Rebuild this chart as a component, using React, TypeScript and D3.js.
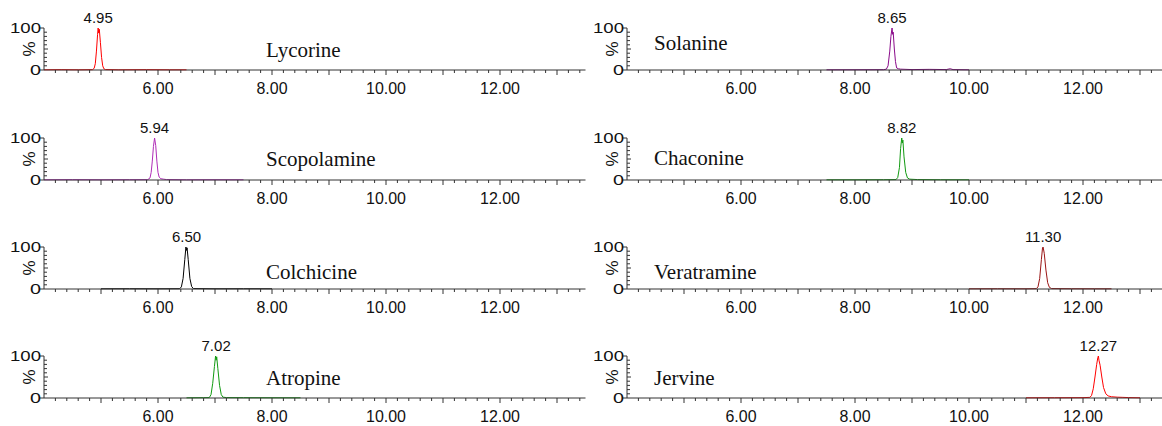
import React from "react";
import * as d3 from "d3";

// chromatogram traces: [retention time (min), relative intensity %]
const lycorine = [[4.0,0.5],[4.3,0.8],[4.6,0.5],[4.85,0.8],[4.88,4],[4.9,15],[4.92,45],[4.94,85],[4.95,100],[4.96,88],[4.97,97],[4.99,65],[5.01,30],[5.03,10],[5.05,3],[5.08,1],[5.3,0.5],[5.8,0.8],[6.2,0.5],[6.5,0.5]];
const scopolamine = [[4.0,0.5],[4.5,0.8],[5.0,0.5],[5.5,0.7],[5.82,0.8],[5.86,5],[5.88,18],[5.9,45],[5.92,80],[5.94,100],[5.96,82],[5.98,45],[6.0,18],[6.02,7],[6.05,3],[6.1,2],[6.15,1],[6.5,0.5],[7.0,0.6],[7.5,0.5]];
const colchicine = [[5.0,0.5],[5.5,0.6],[6.0,0.5],[6.38,0.7],[6.41,5],[6.44,25],[6.47,70],[6.49,100],[6.5,92],[6.51,98],[6.53,70],[6.56,25],[6.59,6],[6.62,1],[7.0,0.5],[7.5,0.6],[8.0,0.5]];
const atropine = [[6.5,0.5],[6.8,0.8],[6.9,1],[6.93,8],[6.96,35],[6.99,75],[7.01,100],[7.02,90],[7.03,98],[7.05,70],[7.08,30],[7.11,8],[7.14,2],[7.2,1],[7.5,0.8],[8.0,0.6],[8.5,0.5]];
const solanine = [[7.5,0.5],[8.0,0.6],[8.5,0.8],[8.55,2],[8.58,10],[8.61,45],[8.63,80],[8.65,100],[8.66,85],[8.67,90],[8.69,50],[8.71,20],[8.73,5],[8.76,3],[8.8,2],[9.0,1],[9.3,1.5],[9.6,1],[9.67,3],[9.72,1],[10.0,0.5]];
const chaconine = [[7.5,0.5],[8.0,0.5],[8.5,0.7],[8.72,1],[8.75,6],[8.78,30],[8.8,75],[8.82,100],[8.83,88],[8.84,95],[8.86,55],[8.89,18],[8.92,5],[8.96,2],[9.1,1],[9.5,0.6],[10.0,0.5]];
const veratramine = [[10.0,0.5],[10.5,0.6],[11.0,0.5],[11.18,0.8],[11.21,5],[11.24,25],[11.27,70],[11.29,98],[11.3,100],[11.32,85],[11.35,45],[11.38,15],[11.41,4],[11.45,1],[11.8,0.6],[12.2,0.5],[12.5,0.5]];
const jervine = [[11.0,0.5],[11.5,0.6],[12.0,0.8],[12.12,1.5],[12.15,6],[12.18,22],[12.21,50],[12.24,80],[12.26,96],[12.27,100],[12.28,90],[12.3,78],[12.33,50],[12.36,25],[12.4,10],[12.44,5],[12.5,3],[12.6,2],[12.7,1.5],[12.8,1],[13.0,0.5]];

const names = ["Lycorine", "Scopolamine", "Colchicine", "Atropine", "Solanine", "Chaconine", "Veratramine", "Jervine"];
const peakTimes = [4.95, 5.94, 6.5, 7.02, 8.65, 8.82, 11.3, 12.27];
const traces = [lycorine, scopolamine, colchicine, atropine, solanine, chaconine, veratramine, jervine];
const colors = ["#ff0000", "#b02cb8", "#000000", "#119a11", "#8a0a8a", "#119a11", "#9a1414", "#ff0000"];

const xLabels = [6, 8, 10, 12];
const yLabels = [0, 100];

// layout
const W = 1162;
const H = 426;
const colX = [44, 627];
const rowY = [70, 180, 289, 398];
const plotH = 42;
const plotW = 541.5;
const nameX = [266, 654];
const nameDy = [-13, -14, -10, -13, -20, -15, -10, -13];
const axisColor = "#333";
const sans = "Liberation Sans, Arial, sans-serif";

// stretched numerals like the instrument export: ~9px per digit
const numWidth = (s: string) => s.replace(".", "").length * 9 + 4;

const Panel = ({ index }) => {
  const col = index < 4 ? 0 : 1;
  const row = index % 4;
  const x0 = colX[col];
  const y0 = rowY[row];

  const x = d3.scaleLinear().domain([4, 13.5]).range([x0, x0 + plotW]);
  const y = d3.scaleLinear().domain([0, 100]).range([y0, y0 - plotH]);

  const line = d3
    .line()
    .x(d => x(d[0]))
    .y(d => y(d[1]));

  const majorX = d3.range(5, 13.6, 1);
  const minorX = d3.range(4.2, 13.5, 0.2).filter(v => Math.abs(v - Math.round(v)) > 0.01);
  const minorY = d3.range(10, 100, 10);

  const peak = peakTimes[index];
  const fmt = d3.format(".2f");

  return (
    <g>
      {/* trace */}
      <path d={line(traces[index])} fill="none" stroke={colors[index]} strokeWidth={1} />

      {/* x axis */}
      <line x1={x0} x2={x0 + plotW} y1={y0} y2={y0} stroke={axisColor} strokeWidth={1} />
      {majorX.map(v => (
        <line key={`M${v}`} x1={x(v)} x2={x(v)} y1={y0} y2={y0 + 5} stroke={axisColor} />
      ))}
      {minorX.map((v, i) => (
        <line key={`m${i}`} x1={x(v)} x2={x(v)} y1={y0} y2={y0 + 3} stroke={axisColor} />
      ))}
      {xLabels.map(v => (
        <text key={`xl${v}`} x={x(v)} y={y0 + 24} textAnchor="middle" fontSize={16} fontFamily={sans} fill="#111"
          textLength={numWidth(fmt(v))} lengthAdjust="spacingAndGlyphs">
          {fmt(v)}
        </text>
      ))}

      {/* y axis */}
      <line x1={x0} x2={x0} y1={y0} y2={y0 - plotH} stroke={axisColor} strokeWidth={1} />
      {yLabels.map(v => (
        <g key={`yl${v}`}>
          <line x1={x0 - 5} x2={x0} y1={y(v)} y2={y(v)} stroke={axisColor} />
          <text x={x0 - 3} y={y(v) + 5} textAnchor="end" fontSize={15} fontFamily={sans} fill="#111"
            textLength={v === 100 ? 31 : 11} lengthAdjust="spacingAndGlyphs">
            {v}
          </text>
        </g>
      ))}
      {minorY.map(v => (
        <line key={`my${v}`} x1={x0} x2={x0 + (v === 50 ? 4 : 3)} y1={y(v)} y2={y(v)} stroke={axisColor} />
      ))}
      <text
        transform={`translate(${x0 - 9},${y(50)}) rotate(-90)`}
        textAnchor="middle"
        fontSize={17}
        fontFamily={sans}
        fill="#111"
      >
        %
      </text>

      {/* peak label */}
      <text x={x(peak)} y={y(100) - 5} textAnchor="middle" fontSize={15} fontFamily={sans} fill="#111">
        {fmt(peak)}
      </text>

      {/* compound name */}
      <text x={nameX[col]} y={y0 + nameDy[index]} fontSize={21} fontFamily="Liberation Serif, Times New Roman, serif" fill="#111">
        {names[index]}
      </text>
    </g>
  );
};

const App = () => {
  return (
    <svg width={W} height={H} style={{ position: "absolute", left: 0, top: 0, background: "#fff" }}>
      <rect width={W} height={H} fill="#fff" />
      {names.map((n, i) => (
        <Panel key={n} index={i} />
      ))}
    </svg>
  );
};

export default App;
